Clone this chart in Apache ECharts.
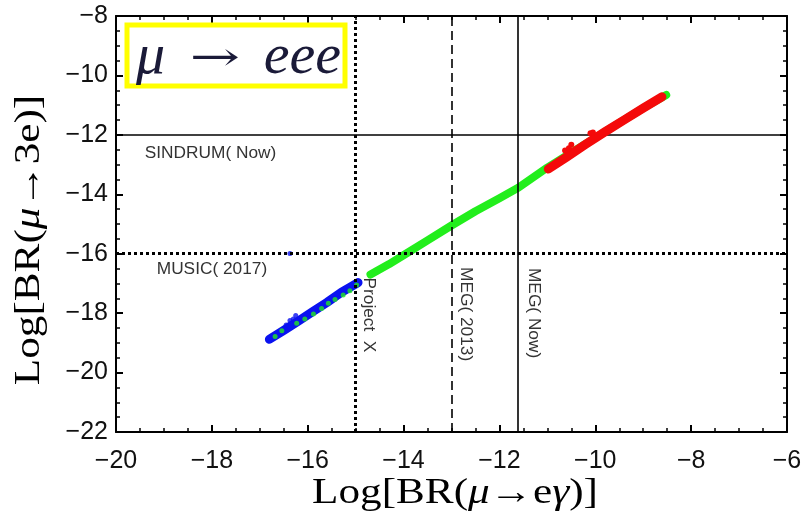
<!DOCTYPE html>
<html>
<head>
<meta charset="utf-8">
<script src="https://cdn.jsdelivr.net/npm/echarts@6/dist/echarts.min.js"></script>
<style>
  html, body { margin: 0; padding: 0; background: #fff; }
  #chart { width: 808px; height: 522px; }
</style>
</head>
<body>
<div id="chart"></div>
<script>
// Axis ranges (log10 of branching ratios)
const xRange = [-20, -6];
const yRange = [-22, -8];

// Experimental limits
const sindrumNow = -12;      // BR(mu -> 3e)
const music2017 = -16;       // BR(mu -> 3e)
const projectX = -15;        // BR(mu -> e gamma)
const meg2013 = -13;         // BR(mu -> e gamma)
const megNow = -11.62;       // BR(mu -> e gamma)

// Parameter scan: blue region
const bluePoints = [
  [-16.80, -18.88], [-16.50, -18.58], [-16.20, -18.27], [-15.90, -17.95],
  [-15.60, -17.64], [-15.30, -17.30], [-14.95, -16.97]
];
const blueSpurs = [
  [-16.45, -18.40], [-16.37, -18.25], [-16.25, -18.08], [-16.30, -18.20],
  [-16.37, -15.99]
];
// Green points that sit on top of the blue region
const greenDots = [
  [-16.68, -18.79], [-16.54, -18.59], [-16.23, -18.34], [-16.06, -18.20],
  [-15.88, -18.03], [-15.71, -17.84], [-15.57, -17.67], [-15.43, -17.54],
  [-15.26, -17.39], [-15.12, -17.25], [-14.98, -17.05]
];
// Parameter scan: green region
const greenPoints = [
  [-14.69, -16.70], [-14.30, -16.35], [-13.90, -15.95], [-13.50, -15.55],
  [-13.00, -15.05], [-12.50, -14.57], [-12.00, -14.13], [-11.60, -13.77],
  [-11.00, -13.10], [-10.50, -12.60], [-10.00, -12.10], [-9.50, -11.60],
  [-9.00, -11.10], [-8.52, -10.66]
];
// Parameter scan: red region
const redPoints = [
  [-10.98, -13.15], [-10.60, -12.75], [-10.20, -12.32], [-9.80, -11.90],
  [-9.40, -11.50], [-9.00, -11.10], [-8.61, -10.72]
];
const redSpurs = [
  [-10.63, -12.53], [-10.50, -12.33], [-10.55, -12.45], [-10.10, -11.95],
  [-10.05, -11.92]
];

// Limit labels: [x, y, text, vertical]
const limitLabels = [
  [-19.40, -12.62, 'SINDRUM( Now)', false],
  [-19.15, -16.55, 'MUSIC( 2017)', false],
  [-14.74, -16.80, 'Project  X', true],
  [-12.72, -16.45, 'MEG( 2013)', true],
  [-11.30, -16.48, 'MEG( Now)', true]
];

const tickFont = '"Liberation Sans", Arial, sans-serif';
const serif = '"Liberation Serif", "Times New Roman", serif';
const fmtTick = v => (v < 0 ? '\u2212' + Math.abs(v) : String(v));

const frameAxis = (extra) => Object.assign({
  type: 'value',
  interval: 2,
  axisLine: { show: true, onZero: false, lineStyle: { color: '#000', width: 2 } },
  axisTick: { show: true, inside: true, length: 7, lineStyle: { color: '#000', width: 2 } },
  minorTick: { show: true, splitNumber: 4, length: 4, lineStyle: { color: '#000', width: 1.5 } },
  splitLine: { show: false },
  axisLabel: { show: false }
}, extra);

const chart = echarts.init(document.getElementById('chart'));

const option = {
  animation: false,
  backgroundColor: '#fff',
  grid: { left: 116, right: 21, top: 16, bottom: 90, containLabel: false, outerBoundsMode: 'none' },
  xAxis: [
    frameAxis({
      min: xRange[0], max: xRange[1], position: 'bottom',
      axisLabel: { show: true, formatter: fmtTick, color: '#111', fontSize: 25, fontFamily: tickFont, margin: 17 }
    }),
    frameAxis({ min: xRange[0], max: xRange[1], position: 'top' })
  ],
  yAxis: [
    frameAxis({
      min: yRange[0], max: yRange[1], position: 'left',
      axisLabel: { show: true, formatter: fmtTick, color: '#111', fontSize: 25, fontFamily: tickFont, margin: 8 }
    }),
    frameAxis({ min: yRange[0], max: yRange[1], position: 'right' })
  ],
  series: [
    {
      name: 'limits', type: 'line', data: [], silent: true,
      markLine: {
        symbol: 'none', silent: true, label: { show: false },
        data: [
          { yAxis: sindrumNow, lineStyle: { color: '#000', width: 1.6, type: 'solid' } },
          { yAxis: music2017, lineStyle: { color: '#000', width: 3, type: [3, 3] } },
          { xAxis: projectX, lineStyle: { color: '#000', width: 3, type: [3, 3] } },
          { xAxis: meg2013, lineStyle: { color: '#000', width: 1.6, type: [9, 5] } },
          { xAxis: megNow, lineStyle: { color: '#000', width: 1.6, type: 'solid' } }
        ]
      }
    },
    {
      name: 'blue', type: 'line', data: bluePoints, showSymbol: false, smooth: false,
      lineStyle: { color: '#0a12f0', width: 9, cap: 'round', join: 'round' }, z: 3
    },
    {
      name: 'blueSpurs', type: 'scatter', data: blueSpurs, symbolSize: 5,
      itemStyle: { color: '#0a12f0' }, z: 3
    },
    {
      name: 'greenDots', type: 'scatter', data: greenDots, symbolSize: 5,
      itemStyle: { color: '#22e822' }, z: 4
    },
    {
      name: 'green', type: 'line', data: greenPoints, showSymbol: false,
      lineStyle: { color: '#22ee1c', width: 8, cap: 'round', join: 'round' }, z: 3
    },
    {
      name: 'red', type: 'line', data: redPoints, showSymbol: false,
      lineStyle: { color: '#f40a0a', width: 9, cap: 'round', join: 'round' }, z: 5
    },
    {
      name: 'redSpurs', type: 'scatter', data: redSpurs, symbolSize: 6,
      itemStyle: { color: '#f40a0a', opacity: 1 }, z: 5
    }
  ]
};

chart.setOption(option);

// Limit labels, placed through the grid's coordinate system
const graphics = limitLabels.map(([x, y, text, vertical]) => {
  const p = chart.convertToPixel({ gridIndex: 0 }, [x, y]);
  return {
    type: 'text', x: p[0], y: p[1], z: 20,
    rotation: vertical ? -Math.PI / 2 : 0,
    scaleX: 1.08,
    style: {
      text: text, fill: '#333', font: '16px ' + tickFont,
      align: 'left', verticalAlign: 'middle'
    }
  };
});

// Axis titles (wide Times-style lettering)
const titleRich = {
  t: { fontFamily: serif, fontSize: 36, fill: '#000' },
  i: { fontFamily: serif, fontSize: 36, fontStyle: 'italic', fill: '#000' }
};
graphics.push({
  type: 'text', z: 20, x: 455, y: 494, scaleX: 1.2,
  style: {
    text: '{t|Log[BR(}{i|\u03bc}{t|\u2192e}{i|\u03b3}{t|)]}',
    rich: titleRich, align: 'center', verticalAlign: 'middle'
  }
});
graphics.push({
  type: 'text', z: 20, x: 30, y: 240, rotation: Math.PI / 2, scaleX: 1.2,
  style: {
    text: '{t|Log[BR(}{i|\u03bc}{t|\u21923e)]}',
    rich: titleRich, align: 'center', verticalAlign: 'middle'
  }
});

// Process tag in the upper-left corner
const tagColor = '#1a1a38';
graphics.push({
  type: 'rect', z: 20,
  shape: { x: 127, y: 25, width: 218, height: 61 },
  style: { fill: '#fff', stroke: '#ffff00', lineWidth: 5 }
});
graphics.push({
  type: 'text', z: 21, x: 136, y: 58,
  style: {
    text: '\u03bc', fill: tagColor, font: 'italic 58px ' + serif,
    align: 'left', verticalAlign: 'middle'
  }
});
graphics.push({
  type: 'text', z: 21, x: 215, y: 60, scaleX: 1.5,
  style: {
    text: '\u2192', fill: tagColor, font: '40px "DejaVu Serif", serif',
    align: 'center', verticalAlign: 'middle'
  }
});
graphics.push({
  type: 'text', z: 21, x: 341, y: 58,
  style: {
    text: 'eee', fill: tagColor, font: 'italic 58px ' + serif,
    align: 'right', verticalAlign: 'middle'
  }
});
chart.setOption({ graphic: graphics });
</script>
</body>
</html>
